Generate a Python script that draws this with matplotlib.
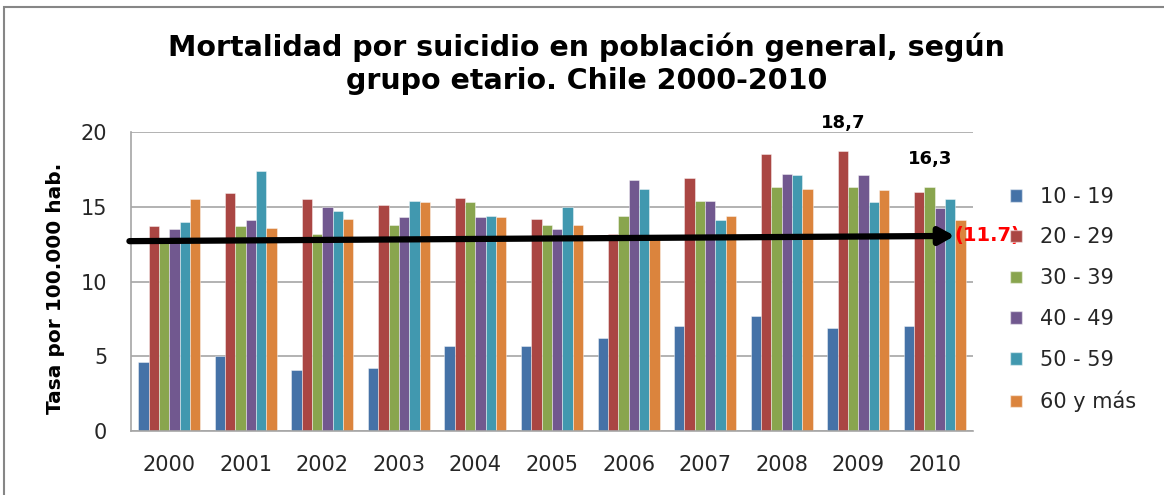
import matplotlib
matplotlib.use("Agg")
import matplotlib.pyplot as plt
from matplotlib.patches import Patch, Rectangle
import numpy as np

# Tasas de mortalidad por suicidio (por 100.000 hab.) por grupo etario
years = ["2000", "2001", "2002", "2003", "2004", "2005",
         "2006", "2007", "2008", "2009", "2010"]
groups = ["10 - 19", "20 - 29", "30 - 39", "40 - 49", "50 - 59", "60 y más"]

g10_19 = [4.6, 5.0, 4.1, 4.2, 5.7, 5.7, 6.2, 7.0, 7.7, 6.9, 7.0]
g20_29 = [13.7, 15.9, 15.5, 15.1, 15.6, 14.2, 13.2, 16.9, 18.5, 18.7, 16.0]
g30_39 = [12.7, 13.7, 13.2, 13.8, 15.3, 13.8, 14.4, 15.4, 16.3, 16.3, 16.3]
g40_49 = [13.5, 14.1, 15.0, 14.3, 14.3, 13.5, 16.8, 15.4, 17.2, 17.1, 14.9]
g50_59 = [14.0, 17.4, 14.7, 15.4, 14.4, 15.0, 16.2, 14.1, 17.1, 15.3, 15.5]
g60_mas = [15.5, 13.6, 14.2, 15.3, 14.3, 13.8, 12.9, 14.4, 16.2, 16.1, 14.1]

series = [g10_19, g20_29, g30_39, g40_49, g50_59, g60_mas]
colors = ["#4572A7", "#AA4643", "#89A54E", "#71588F", "#4198AF", "#DB843D"]

# tendencia general (línea con flecha) y su etiqueta
trend_start = 12.7
trend_end = 13.05
trend_label = "(11.7)"

fig = plt.figure(figsize=(11.64, 4.95), dpi=100)
ax = fig.add_axes([0.1125, 0.1293, 0.7235, 0.604])

x = np.arange(len(years))
w = 0.135
for i, (vals, col, lab) in enumerate(zip(series, colors, groups)):
    ax.bar(x + (i - 2.5) * w, vals, w, color=col, label=lab,
           edgecolor=(1, 1, 1, 0.5), linewidth=0.6, zorder=2)

# valores destacados
ax.text(x[9] + (1 - 2.5) * w, g20_29[9] + 1.3, f"{g20_29[9]:.1f}".replace(".", ","),
        ha="center", va="bottom", fontsize=13, fontweight="bold")
ax.text(x[10] + (2 - 2.5) * w, g30_39[10] + 1.3, f"{g30_39[10]:.1f}".replace(".", ","),
        ha="center", va="bottom", fontsize=13, fontweight="bold")

ax.annotate("", xy=(10.26, trend_end), xytext=(-0.52, trend_start),
            arrowprops=dict(arrowstyle="-|>,head_length=0.9,head_width=0.5",
                            color="black", lw=4.5, shrinkA=0, shrinkB=0),
            annotation_clip=False, zorder=4)
ax.text(10.26, trend_end + 0.05, trend_label, color="red", fontsize=14,
        fontweight="bold", ha="left", va="center", zorder=5)

ax.set_xlim(-0.5, len(years) - 0.5)
ax.set_ylim(0, 20)
ax.set_yticks([0, 5, 10, 15, 20])
ax.set_xticks(x)
ax.set_xticklabels(years)
ax.tick_params(axis="both", length=0, labelsize=15, colors="#262626")
ax.tick_params(axis="x", pad=17)
ax.tick_params(axis="y", pad=17)
ax.yaxis.grid(True, color="#a6a6a6", linewidth=1.2, zorder=0)
ax.set_axisbelow(True)
for s in ["top", "right"]:
    ax.spines[s].set_visible(False)
for s in ["left", "bottom"]:
    ax.spines[s].set_color("#a6a6a6")
    ax.spines[s].set_linewidth(1.2)

ax.set_ylabel("Tasa por 100.000 hab.", fontsize=14.5, fontweight="bold")
ax.yaxis.set_label_coords(-0.078, 0.477)

fig.suptitle("Mortalidad por suicidio en población general, según\n"
             "grupo etario. Chile 2000-2010",
             x=0.504, y=0.935, fontsize=20.5, fontweight="bold",
             linespacing=1.22)

handles = [Patch(facecolor=c, edgecolor=(1, 1, 1, 0.5)) for c in colors]
fig.legend(handles, groups, loc="center left", bbox_to_anchor=(0.852, 0.395),
           frameon=False, fontsize=15, handlelength=0.55, handleheight=0.55,
           handletextpad=0.85, labelspacing=1.0, labelcolor="#262626")

# marco del gráfico
fig.add_artist(Rectangle((4 / 1164, -0.1), 1.2, 1.1 - 7 / 495,
                         transform=fig.transFigure, fill=False,
                         edgecolor="#868686", linewidth=1.5))

fig.savefig("out.png", dpi=100)
